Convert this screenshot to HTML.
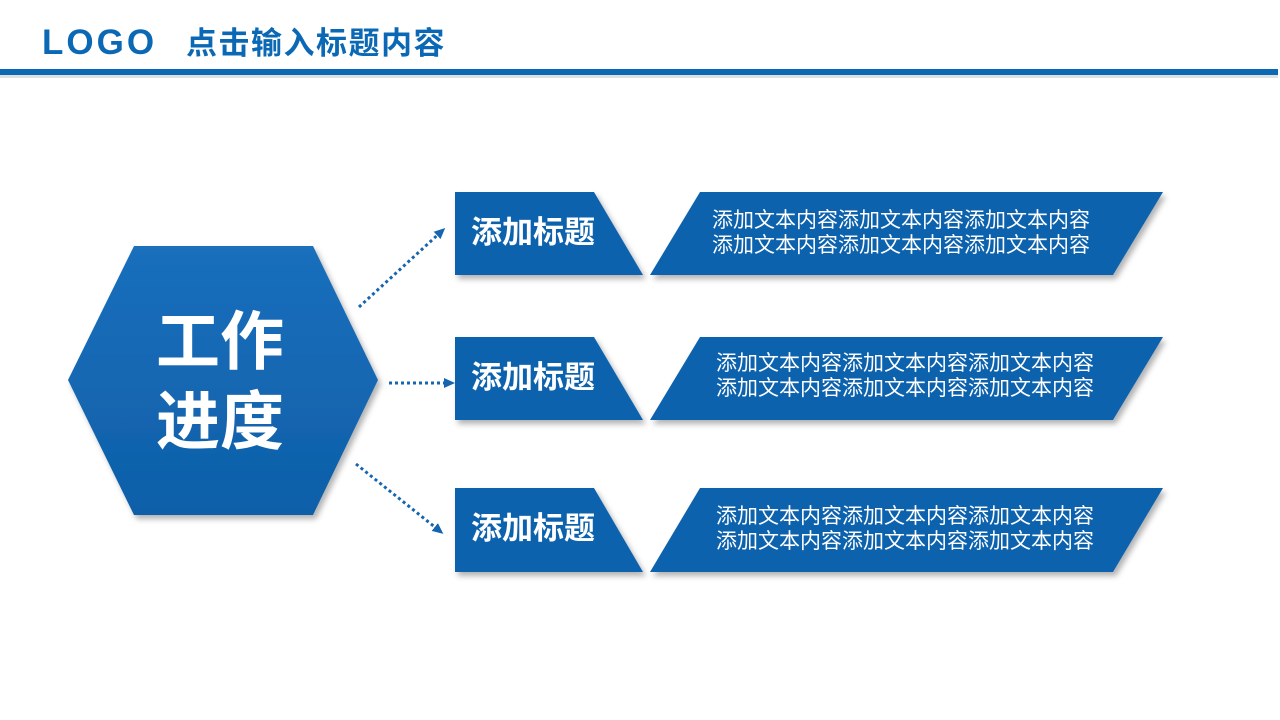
<!DOCTYPE html>
<html><head><meta charset="utf-8"><style>
html,body{margin:0;padding:0;background:#fff;width:1280px;height:720px;overflow:hidden}
svg text{font-family:"Liberation Sans","Noto Sans CJK SC",sans-serif}
</style></head><body>
<svg width="1280" height="720" viewBox="0 0 1280 720" xmlns="http://www.w3.org/2000/svg">
<defs>
<filter id="sh" x="-10%" y="-10%" width="130%" height="140%"><feDropShadow dx="3" dy="4" stdDeviation="3" flood-color="#000" flood-opacity="0.3"/></filter>
<linearGradient id="hg" x1="0" y1="0" x2="0" y2="1"><stop offset="0" stop-color="#1a6fbc"/><stop offset="1" stop-color="#0e5fa8"/></linearGradient>
<marker id="ar" markerWidth="11" markerHeight="10" refX="8" refY="5" orient="auto" markerUnits="userSpaceOnUse"><path d="M0,0 L11,5 L0,10 Z" fill="#1565b0"/></marker>
</defs>
<text x="42" y="54" font-size="35" fill="#0b68b4" font-weight="bold" style="font-family:'Liberation Sans',sans-serif;letter-spacing:3px">LOGO</text>
<text x="186" y="54" font-size="31" fill="#0b68b4" font-weight="bold" letter-spacing="1.5">点击输入标题内容</text>
<rect x="0" y="69" width="1278" height="6" fill="#0b68b4"/>
<rect x="0" y="75" width="1278" height="3" fill="#ccc" opacity="0.6"/>

<polygon points="68,380 134,246 313,246 378,380 313,515 134,515" fill="url(#hg)" filter="url(#sh)"/>
<text x="220" y="364" font-size="64" fill="#fff" font-weight="bold" text-anchor="middle">工作</text>
<text x="220" y="444" font-size="64" fill="#fff" font-weight="bold" text-anchor="middle">进度</text>

<g stroke="#1565b0" stroke-width="3" stroke-dasharray="3,3" fill="none">
<line x1="359" y1="307" x2="443" y2="230" marker-end="url(#ar)"/>
<line x1="389" y1="383" x2="452" y2="383" marker-end="url(#ar)"/>
<line x1="356" y1="464" x2="441" y2="532" marker-end="url(#ar)"/>
</g>

<g filter="url(#sh)" fill="#0e62ae">
<polygon points="455,192 594,192 643,275 455,275"/>
<polygon points="700,192 1163,192 1113,275 650,275"/>
<polygon points="455,337 594,337 643,420 455,420"/>
<polygon points="700,337 1163,337 1113,420 650,420"/>
<polygon points="455,488 594,488 643,572 455,572"/>
<polygon points="700,488 1163,488 1113,572 650,572"/>
</g>
<g fill="#fff" font-size="31" font-weight="bold">
<text x="471" y="243">添加标题</text>
<text x="471" y="388">添加标题</text>
<text x="471" y="539">添加标题</text>
</g>
<g fill="#fff" font-size="21" text-anchor="middle">
<text x="901" y="227">添加文本内容添加文本内容添加文本内容</text>
<text x="901" y="252">添加文本内容添加文本内容添加文本内容</text>
<text x="905" y="370">添加文本内容添加文本内容添加文本内容</text>
<text x="905" y="395">添加文本内容添加文本内容添加文本内容</text>
<text x="905" y="523">添加文本内容添加文本内容添加文本内容</text>
<text x="905" y="548">添加文本内容添加文本内容添加文本内容</text>
</g>
</svg>
</body></html>
